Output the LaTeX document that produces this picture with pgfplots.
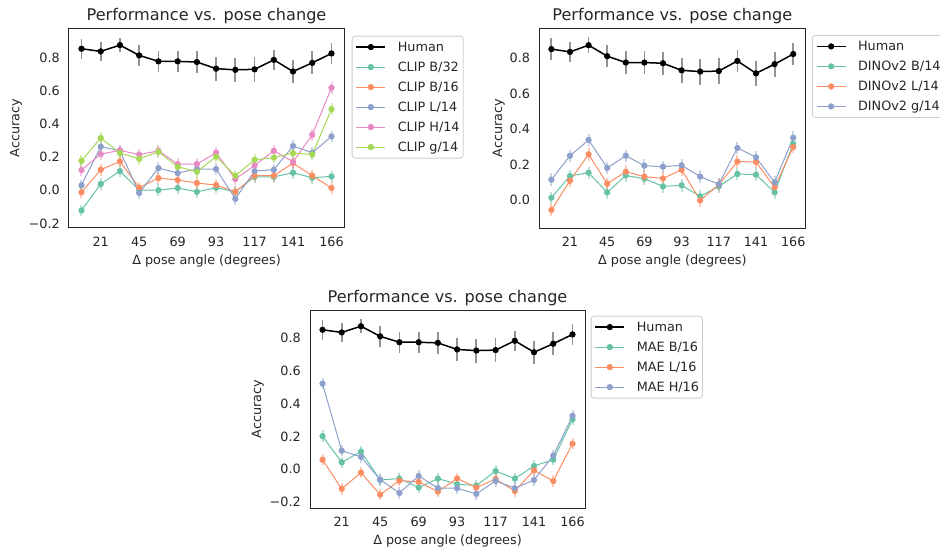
\documentclass[border=0pt]{standalone}
\usepackage{fontspec}
\setmainfont{DejaVu Sans}
\usepackage{pgfplots}
\usepackage{pgfplotstable}
\pgfplotsset{compat=1.18}

\definecolor{ink}{HTML}{262626}
\definecolor{legline}{HTML}{CCCCCC}
\definecolor{errgray}{HTML}{6E6E6E}
\definecolor{sA}{HTML}{66C2A5}
\definecolor{sB}{HTML}{FC8D62}
\definecolor{sC}{HTML}{8DA0CB}
\definecolor{sD}{HTML}{E78AC3}
\definecolor{sE}{HTML}{A6D854}

% human accuracy (same in all three panels), x = bin index
\pgfplotstableread{
x h e
0 0.852 0.060
1 0.836 0.056
2 0.874 0.044
3 0.812 0.063
4 0.776 0.065
5 0.776 0.065
6 0.772 0.066
7 0.732 0.072
8 0.725 0.073
9 0.728 0.074
10 0.785 0.060
11 0.715 0.070
12 0.767 0.070
13 0.824 0.062
}\human

\pgfplotstableread{
x b32 b16 l14 h14 g14
0 -0.122 -0.013 0.029 0.121 0.177
1 0.037 0.123 0.262 0.217 0.314
2 0.115 0.173 0.237 0.240 0.224
3 0.000 0.015 -0.017 0.214 0.189
4 0.000 0.073 0.133 0.237 0.231
5 0.013 0.061 0.103 0.157 0.141
6 -0.010 0.043 0.127 0.157 0.111
7 0.015 0.031 0.127 0.226 0.202
8 -0.010 -0.010 -0.052 0.067 0.087
9 0.080 0.087 0.115 0.149 0.183
10 0.080 0.087 0.123 0.237 0.196
11 0.105 0.163 0.266 0.171 0.223
12 0.075 0.087 0.225 0.334 0.215
13 0.083 0.013 0.324 0.617 0.488
}\clip

\pgfplotstableread{
x b14 l14 g14
0 0.013 -0.056 0.115
1 0.136 0.109 0.250
2 0.154 0.258 0.339
3 0.043 0.092 0.181
4 0.139 0.160 0.250
5 0.120 0.132 0.194
6 0.077 0.122 0.188
7 0.083 0.171 0.196
8 0.021 -0.002 0.132
9 0.077 0.087 0.089
10 0.147 0.217 0.294
11 0.143 0.215 0.241
12 0.043 0.072 0.100
13 0.318 0.299 0.352
}\dino

\pgfplotstableread{
x b16 l16 h16
0 0.202 0.058 0.523
1 0.042 -0.120 0.113
2 0.108 -0.021 0.076
3 -0.066 -0.155 -0.064
4 -0.057 -0.070 -0.145
5 -0.112 -0.077 -0.041
6 -0.057 -0.137 -0.115
7 -0.091 -0.056 -0.116
8 -0.100 -0.112 -0.151
9 -0.011 -0.060 -0.071
10 -0.057 -0.133 -0.116
11 0.020 -0.007 -0.066
12 0.058 -0.072 0.083
13 0.305 0.156 0.326
}\mae

\newcommand{\fs}{\fontsize{12.8}{15}\selectfont}

\pgfplotsset{
  panel/.style={
    scale only axis,
    xmin=-0.65, xmax=13.65,
    xtick={1,3,5,7,9,11,13},
    xticklabels={21,45,69,93,117,141,166},
    major tick length=0pt,
    axis line style={draw=ink, line width=1pt},
    tick label style={font=\fs, text=ink},
    xticklabel style={anchor=base, yshift=-18.7pt},
    yticklabel style={anchor=east, inner sep=0pt, xshift=-9pt},
    title={Performance vs. pose change},
    every axis title/.style={at={(0.5,1)}, anchor=base, yshift=7.3pt,
      font=\fontsize{16.1}{19}\selectfont, text=ink},
    xlabel={Δ pose angle (degrees)},
    every axis x label/.style={at={(axis description cs:0.5,0)}, anchor=base,
      yshift=-36.4pt, font=\fs, text=ink},
    ylabel={Accuracy},
    legend cell align=left,
    legend style={at={(1,1)}, anchor=north west, draw=legline, line width=0.8pt,
      rounded corners=3pt, fill=white, inner xsep=3.5pt, inner ysep=5.5pt,
      row sep=9pt, column sep=11.7pt, font=\fs, text=ink,
      cells={anchor=west},
      nodes={inner sep=0pt, text height=10pt, text depth=1pt}},
    legend image code/.code={
      \draw[mark repeat=2, mark phase=2]
        plot coordinates {(0pt,0pt) (14.5pt,0pt) (29pt,0pt)};},
  },
  ylab/.style={every axis y label/.style={at={(axis description cs:#1,0.5)},
      rotate=90, anchor=base, font=\fs, text=ink}},
  hum/.style={black, line width=1.5pt, mark=*, mark size=2.7pt,
    mark options={solid, fill=black, draw=black, line width=0.8pt},
    error bars/.cd, y dir=both, y explicit, error mark=none,
    error bar style={line width=1.8pt, draw=errgray, draw opacity=0.75}},
  mdl/.style={#1, line width=1pt, mark=*, mark size=2.8pt,
    mark options={solid, fill=#1, draw=#1, line width=0.6pt},
    error bars/.cd, y dir=both, y fixed=0.035, error mark=none,
    error bar style={line width=2pt, draw=#1, draw opacity=0.45}},
}

\begin{document}
\begin{tikzpicture}
\path[use as bounding box] (0pt,0pt) rectangle (940pt,-552pt);

% CLIP
\begin{axis}[panel, ylab=-0.1804,
  at={(69pt,-28pt)}, anchor=north west, width=275pt, height=200pt,
  ymin=-0.228, ymax=0.977,
  ytick={-0.2,0,0.2,0.4,0.6,0.8},
  yticklabels={−0.2,0.0,0.2,0.4,0.6,0.8},
  legend style={xshift=7.7pt, yshift=-7.7pt}]
\addplot[hum] table[x=x, y=h, y error=e] {\human};
\addplot[mdl=sA] table[x=x, y=b32] {\clip};
\addplot[mdl=sB] table[x=x, y=b16] {\clip};
\addplot[mdl=sC] table[x=x, y=l14] {\clip};
\addplot[mdl=sD] table[x=x, y=h14] {\clip};
\addplot[mdl=sE] table[x=x, y=g14] {\clip};
\legend{Human, CLIP B/32, CLIP B/16, CLIP L/14, CLIP H/14, CLIP g/14}
\end{axis}

% DINOv2
\begin{axis}[panel, ylab=-0.1398,
  at={(539.3pt,-28pt)}, anchor=north west, width=266pt, height=200pt,
  ymin=-0.158, ymax=0.971,
  ytick={0,0.2,0.4,0.6,0.8},
  yticklabels={0.0,0.2,0.4,0.6,0.8},
  legend style={xshift=6.7pt, yshift=-7pt}]
\addplot[hum] table[x=x, y=h, y error=e] {\human};
\addplot[mdl=sA] table[x=x, y=b14] {\dino};
\addplot[mdl=sB] table[x=x, y=l14] {\dino};
\addplot[mdl=sC] table[x=x, y=g14] {\dino};
\legend{Human, DINOv2 B/14, DINOv2 L/14, DINOv2 g/14}
\end{axis}

% MAE
\begin{axis}[panel, ylab=-0.1778,
  at={(310pt,-310pt)}, anchor=north west, width=275pt, height=198pt,
  ymin=-0.237, ymax=0.973,
  ytick={-0.2,0,0.2,0.4,0.6,0.8},
  yticklabels={−0.2,0.0,0.2,0.4,0.6,0.8},
  legend style={xshift=5.7pt, yshift=-5.7pt}]
\addplot[hum] table[x=x, y=h, y error=e] {\human};
\addplot[mdl=sA] table[x=x, y=b16] {\mae};
\addplot[mdl=sB] table[x=x, y=l16] {\mae};
\addplot[mdl=sC] table[x=x, y=h16] {\mae};
\legend{Human, MAE B/16, MAE L/16, MAE H/16}
\end{axis}
\end{tikzpicture}
\end{document}
